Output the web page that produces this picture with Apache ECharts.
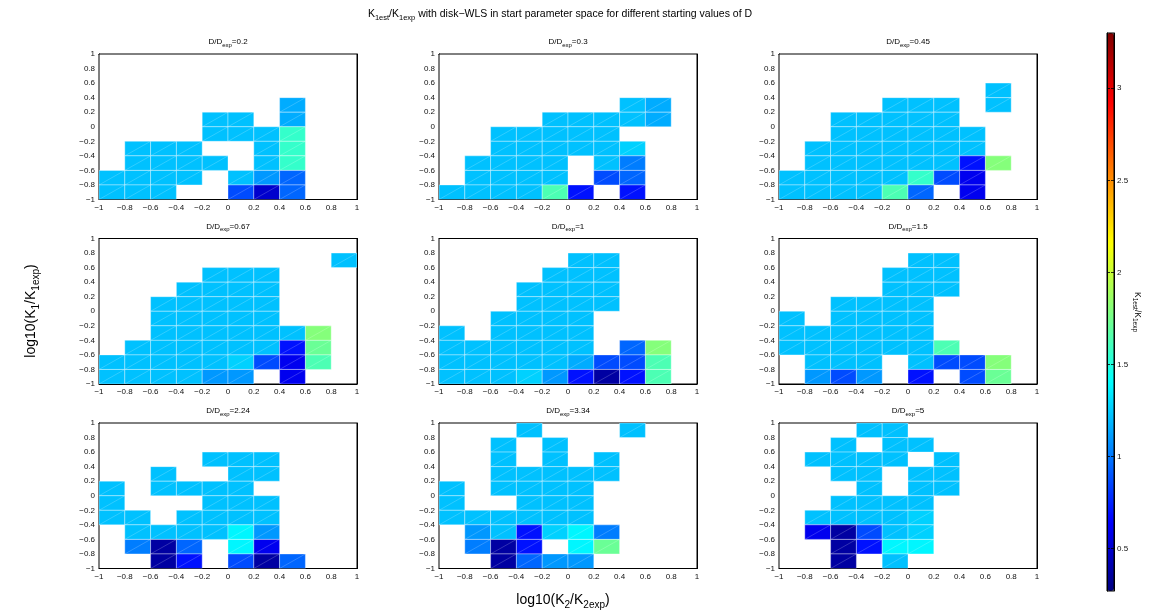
<!DOCTYPE html>
<html>
<head>
<meta charset="utf-8">
<script src="https://cdn.jsdelivr.net/npm/echarts@6/dist/echarts.min.js"></script>
<style>
  html, body { margin: 0; padding: 0; background: #fff; }
  #chart { width: 1150px; height: 616px; }
</style>
</head>
<body>
<div id="chart"></div>
<script>
// K1est/K1exp levels, keyed by the letters used in the panel grids below
const RATIO = {
  V: 0.37, N: 0.5, F: 0.6, D: 0.7, E: 0.87, B: 0.95, P: 1.02, M: 1.1,
  K: 1.16, L: 1.22, C: 1.27, A: 1.38, S: 1.56, T: 1.63, H: 1.72, G: 1.8
};

// starting values of D/Dexp, one panel each
const D_LABELS = ['0.2', '0.3', '0.45', '0.67', '1', '1.5', '2.24', '3.34', '5'];

// each grid: rows from log10(K1/K1exp) = 1 (top) down to -1, columns from log10(K2/K2exp) = -1 to 1
// '.' marks a start point with no result
const GRID_D0_2 = [
  '..........',
  '..........',
  '..........',
  '.......K..',
  '....LL.K..',
  '....LLLS..',
  '.LLL..LS..',
  '.LLLL.LS..',
  'LLLL.LMB..',
  'LLL..ENB..'
];
const GRID_D0_3 = [
  '..........',
  '..........',
  '..........',
  '.......LK.',
  '....LLLLK.',
  '..LLLLL...',
  '..LLLLLC..',
  '.LLLL.LP..',
  '.LLLL.EB..',
  'LLLLTD.D..'
];
const GRID_D0_45 = [
  '..........',
  '..........',
  '........L.',
  '....LLL.L.',
  '..LLLLL...',
  '..LLLLLL..',
  '.LLLLLLL..',
  '.LLLLLLDG.',
  'LLLLLSEF..',
  'LLLLTB.F..'
];
const GRID_D0_67 = [
  '..........',
  '.........L',
  '....LLL...',
  '...LLLL...',
  '..LLLLL...',
  '..LLLLL...',
  '..LLLLLLG.',
  '.LLLLLLDH.',
  'LLLLLCEFT.',
  'LLLLMM.F..'
];
const GRID_D1 = [
  '..........',
  '.....LL...',
  '....LLL...',
  '...LLLL...',
  '...LLLL...',
  '..LLLL....',
  'L.LLLL....',
  'LLLLLL.BG.',
  'LLLLLKEET.',
  'LLLCMDVDT.'
];
const GRID_D1_5 = [
  '..........',
  '.....LL...',
  '....LLL...',
  '....LLL...',
  '..LLLL....',
  'L.LLLL....',
  'LLLLLL....',
  'LLLLLLT...',
  '.LLL.LEEG.',
  '.MEM.D.EH.'
];
const GRID_D2_24 = [
  '..........',
  '..........',
  '....LLL...',
  '..L..LL...',
  'L.LLLL....',
  'L...LLL...',
  'LL.LLLL...',
  '.LLLLAM...',
  '.PVB.AF...',
  '..VD.EVB..'
];
const GRID_D3_34 = [
  '...L...L..',
  '..L.L.....',
  '..L.L.L...',
  '..LLLLL...',
  'L.LLLL....',
  'L..LLL....',
  'LLLLLL....',
  '.MLDCAP...',
  '.PVD.AH...',
  '..VBMM....'
];
const GRID_D5 = [
  '...LL.....',
  '..L.LL....',
  '.LLLL.L...',
  '..LL.LL...',
  '...L.LL...',
  '..LLLL....',
  '.LLLLC....',
  '.FVELC....',
  '..VDAA....',
  '..V.L.....'
];

const PANELS = [GRID_D0_2, GRID_D0_3, GRID_D0_45, GRID_D0_67, GRID_D1, GRID_D1_5, GRID_D2_24, GRID_D3_34, GRID_D5];

const AXIS_MIN = -1, AXIS_MAX = 1, CELL = 0.2;
const COLORBAR_RANGE = [0.27, 3.3];
const COLORBAR_TICKS = [0.5, 1, 1.5, 2, 2.5, 3];
const JET = ['#000080', '#0000ff', '#0080ff', '#00ffff', '#80ff80', '#ffff00', '#ff8000', '#ff0000', '#800000'];

// page layout (pixels)
const COL_LEFT = [99, 439, 779];
const ROW_TOP = [54, 238.5, 423];
const PW = 258, PH = 145.5;
const CB = { left: 1107, top: 33, width: 7, height: 558 };
const FONT = "'Liberation Sans', Arial, Helvetica, sans-serif";

// turn a grid of letters into [x lower edge, y lower edge, ratio] cells
function cellsOf(grid) {
  const out = [];
  grid.forEach((row, r) => {
    const yLow = +(AXIS_MAX - CELL * (r + 1)).toFixed(1);
    row.split('').forEach((ch, c) => {
      if (ch === '.') return;
      const xLow = +(AXIS_MIN + CELL * c).toFixed(1);
      out.push([xLow, yLow, RATIO[ch]]);
    });
  });
  return out;
}

function tickText(v) {
  const r = Math.round(v * 10) / 10;
  return r === 0 ? '0' : String(r).replace('-', '\u2212');
}

function renderCell(params, api) {
  const x0 = api.value(0), y0 = api.value(1);
  const a = api.coord([x0, y0]);
  const b = api.coord([x0 + CELL, y0 + CELL]);
  const x = a[0], y = b[1], w = b[0] - a[0], h = a[1] - b[1];
  return {
    type: 'group',
    children: [
      { type: 'rect', shape: { x, y, width: w, height: h },
        style: { fill: api.visual('color'), stroke: 'rgba(255,255,255,0.35)', lineWidth: 1 } },
      { type: 'line', shape: { x1: x, y1: y + h, x2: x + w, y2: y },
        style: { stroke: 'rgba(255,255,255,0.32)', lineWidth: 0.6 } }
    ]
  };
}

const grids = [], xAxes = [], yAxes = [], series = [], graphics = [];

function richStyle(base, sub, lh) {
  return {
    b: { fontSize: base, fontFamily: FONT, fill: '#000', color: '#000', lineHeight: lh, verticalAlign: 'middle' },
    s: { fontSize: sub, fontFamily: FONT, fill: '#000', color: '#000', lineHeight: sub + 1, verticalAlign: 'bottom' }
  };
}

function textEl(x, y, text, rich, rotation) {
  return {
    type: 'text', x, y, rotation: rotation || 0, z: 20,
    style: {
      text, rich, fill: '#000', fontFamily: FONT,
      align: 'center', verticalAlign: 'middle',
      textAlign: 'center', textVerticalAlign: 'middle'
    }
  };
}

const tickAxisBase = {
  type: 'value', min: AXIS_MIN, max: AXIS_MAX, interval: CELL,
  axisLine: { show: true, onZero: false, lineStyle: { color: '#000', width: 1 } },
  axisTick: { show: true, inside: true, length: 3, lineStyle: { color: '#000', width: 0.8 } },
  splitLine: { show: false }
};

PANELS.forEach((grid, i) => {
  const left = COL_LEFT[i % 3], top = ROW_TOP[Math.floor(i / 3)];
  grids.push({ left, top, width: PW, height: PH, show: true, borderColor: '#000', borderWidth: 1, backgroundColor: '#fff', z: 1 });
  const xi = xAxes.length, yi = yAxes.length;
  xAxes.push(Object.assign({}, tickAxisBase, {
    gridIndex: i, position: 'bottom',
    axisLabel: { show: true, fontSize: 8, fontFamily: FONT, color: '#111', margin: 4, formatter: tickText, showMinLabel: true, showMaxLabel: true }
  }));
  xAxes.push(Object.assign({}, tickAxisBase, { gridIndex: i, position: 'top', axisLabel: { show: false } }));
  yAxes.push(Object.assign({}, tickAxisBase, {
    gridIndex: i, position: 'left',
    axisLabel: { show: true, fontSize: 8, fontFamily: FONT, color: '#111', margin: 4, formatter: tickText, showMinLabel: true, showMaxLabel: true }
  }));
  yAxes.push(Object.assign({}, tickAxisBase, { gridIndex: i, position: 'right', axisLabel: { show: false } }));
  series.push({
    type: 'custom', xAxisIndex: xi, yAxisIndex: yi,
    renderItem: renderCell, data: cellsOf(grid),
    encode: { x: 0, y: 1 }, clip: true, silent: true
  });
  graphics.push(textEl(left + PW / 2, top - 12,
    '{b|D/D}{s|exp}{b|=' + D_LABELS[i] + '}', richStyle(8, 6, 12)));
});

// colour bar axes (ticks on both sides, labels on the right)
const cbGrid = grids.length;
grids.push({ left: CB.left, top: CB.top, width: CB.width, height: CB.height, show: true, borderColor: '#000', borderWidth: 1, backgroundColor: 'transparent', z: 10 });
xAxes.push({ type: 'value', gridIndex: cbGrid, min: 0, max: 1, show: false });
const cbAxisBase = {
  type: 'value', gridIndex: cbGrid, min: COLORBAR_RANGE[0], max: COLORBAR_RANGE[1], z: 10,
  axisLine: { show: true, onZero: false, lineStyle: { color: '#000', width: 1 } },
  axisTick: { show: true, inside: true, length: 3, customValues: COLORBAR_TICKS, lineStyle: { color: '#000', width: 0.8 } },
  splitLine: { show: false }
};
yAxes.push(Object.assign({}, cbAxisBase, {
  position: 'right',
  axisLabel: { show: true, customValues: COLORBAR_TICKS, fontSize: 8, fontFamily: FONT, color: '#111', margin: 3, formatter: v => String(v) }
}));
yAxes.push(Object.assign({}, cbAxisBase, { position: 'left', axisLabel: { show: false } }));

// titles and axis names
graphics.push(textEl(560, 14,
  '{b|K}{s|1est}{b|/K}{s|1exp}{b| with disk\u2212WLS in start parameter space for different starting values of D}',
  richStyle(10.5, 7.5, 16)));
graphics.push(textEl(563, 600, '{b|log10(K}{s|2}{b|/K}{s|2exp}{b|)}', richStyle(14, 10, 20)));
graphics.push(textEl(31, 311, '{b|log10(K}{s|1}{b|/K}{s|1exp}{b|)}', richStyle(14, 10, 20), Math.PI / 2));
graphics.push(textEl(1137, 312, '{b|K}{s|1est}{b|/K}{s|1exp}', richStyle(8.5, 6.5, 12), -Math.PI / 2));

const option = {
  backgroundColor: '#fff',
  animation: false,
  grid: grids,
  xAxis: xAxes,
  yAxis: yAxes,
  visualMap: {
    type: 'continuous', min: COLORBAR_RANGE[0], max: COLORBAR_RANGE[1],
    dimension: 2, seriesIndex: PANELS.map((_, i) => i),
    inRange: { color: JET },
    calculable: false, hoverLink: false, realtime: false,
    left: CB.left, top: CB.top, itemWidth: CB.width, itemHeight: CB.height,
    padding: 0, orient: 'vertical', z: 4
  },
  series,
  graphic: { elements: graphics }
};

const chart = echarts.init(document.getElementById('chart'), null, { renderer: 'canvas' });
chart.setOption(option);
</script>
</body>
</html>
